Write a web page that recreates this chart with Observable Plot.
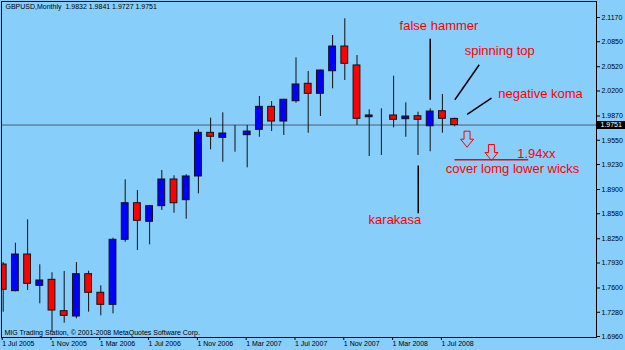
<!DOCTYPE html>
<html>
<head>
<meta charset="utf-8">
<script src="https://cdn.jsdelivr.net/npm/d3@7"></script>
<script src="https://cdn.jsdelivr.net/npm/@observablehq/plot@0.6"></script>
<style>
  html, body { margin: 0; padding: 0; background: #87CEFA; }
  #chart svg { display: block; }
</style>
</head>
<body>
<div id="chart"></div>
<script>
// ---- data (GBPUSD monthly, Jul 2005 .. Aug 2008) ----
const months = ["2005-07","2005-08","2005-09","2005-10","2005-11","2005-12",
  "2006-01","2006-02","2006-03","2006-04","2006-05","2006-06","2006-07","2006-08","2006-09","2006-10","2006-11","2006-12",
  "2007-01","2007-02","2007-03","2007-04","2007-05","2007-06","2007-07","2007-08","2007-09","2007-10","2007-11","2007-12",
  "2008-01","2008-02","2008-03","2008-04","2008-05","2008-06","2008-07","2008-08"];
const open  = [1.7910,1.7558,1.8042,1.7629,1.7708,1.7294,1.7224,1.7782,1.7537,1.7378,1.8236,1.8719,1.8474,1.8680,1.9032,1.8759,1.9072,1.9648,
  1.9582,1.9630,1.9617,1.9688,1.9991,1.9797,2.0065,2.0295,2.0163,2.0461,2.0787,2.0537,1.9854,1.9887,1.9877,1.9828,1.9867,1.9735,1.9933,1.9832];
const high  = [1.7935,1.8191,1.8500,1.7906,1.7801,1.7818,1.7936,1.7822,1.7629,1.8257,1.9028,1.8887,1.8690,1.9151,1.9081,1.9094,1.9688,1.9841,
  1.9912,1.9745,1.9745,2.0127,2.0061,2.0090,2.0638,2.0457,2.0475,2.0932,2.1153,2.0668,1.9952,1.9965,2.0395,2.0044,1.9920,1.9965,2.0154,1.9841];
const low   = [1.7281,1.7550,1.7567,1.7391,1.7017,1.7135,1.7193,1.7281,1.7233,1.7259,1.8204,1.8095,1.8170,1.8623,1.8587,1.8508,1.8843,1.9424,
  1.9260,1.9392,1.9186,1.9590,1.9665,1.9613,2.0039,1.9643,1.9863,2.0229,2.0339,1.9745,1.9335,1.9349,1.9714,1.9590,1.9349,1.9398,1.9643,1.9727];
const close = [1.7576,1.8042,1.7655,1.7699,1.7303,1.7233,1.7782,1.7537,1.7378,1.8236,1.8719,1.8487,1.8680,1.9032,1.8719,1.9072,1.9648,1.9596,
  1.9639,1.9630,1.9665,1.9991,1.9797,2.0084,2.0286,2.0163,2.0470,2.0787,2.0559,1.9833,1.9877,1.9887,1.9820,1.9863,1.9820,1.9929,1.9833,1.9751];

const xTickIndex  = [0,4,8,12,16,20,24,28,32,36];
const xTickLabels = ["1 Jul 2005","1 Nov 2005","1 Mar 2006","1 Jul 2006","1 Nov 2006","1 Mar 2007","1 Jul 2007","1 Nov 2007","1 Mar 2008","1 Jul 2008"];
const yTicks = [2.1170,2.0850,2.0520,2.0200,1.9870,1.9550,1.9230,1.8900,1.8580,1.8250,1.7930,1.7600,1.7280,1.6960];

const title = "GBPUSD,Monthly\u00a0\u00a01.9832 1.9841 1.9727 1.9751";
const copyright = "MIG Trading Station, \u00a9 2001-2008 MetaQuotes Software Corp.";

// annotations anchored in data space (month index, price)
const noteTexts  = ["false hammer","spinning top","negative koma","1.94xx","cover lomg lower wicks","karakasa"];
const noteIndex  = [35.72, 40.70, 44.04, 43.70, 41.75, 32.11];
const notePrice  = [2.1055, 2.0725, 2.0163, 1.9375, 1.9177, 1.8504];
const pointerFrom = [[35.0, 2.0889],[39.02, 2.0546],[40.02, 2.0105],[34.02, 1.8587]];
const pointerTo   = [[35.0, 2.0084],[37.02, 2.0084],[38.03, 1.9890],[34.02, 1.9217]];
const targetLine  = [[36.99, 1.9292],[43.03, 1.9292]];
const arrowIndex  = [38.02, 40.02];
const arrowPrice  = [1.9564, 1.9388];

// ---- build tables ----
const candles = months.map((m, i) => ({i, month: m, open: open[i], high: high[i], low: low[i], close: close[i]}));
const last = candles[candles.length - 1];
const notes = noteTexts.map((t, k) => ({text: t, i: noteIndex[k], price: notePrice[k]}));
const pointers = pointerFrom.map((a, k) => ({i1: a[0], p1: a[1], i2: pointerTo[k][0], p2: pointerTo[k][1]}));
const arrows = arrowIndex.map((v, k) => ({i: v, price: arrowPrice[k]}));

const arrowSymbol = {
  draw(ctx) {
    ctx.moveTo(-3, -8); ctx.lineTo(3, -8); ctx.lineTo(3, 0); ctx.lineTo(6.5, 0);
    ctx.lineTo(0, 8); ctx.lineTo(-6.5, 0); ctx.lineTo(-3, 0); ctx.closePath();
  }
};
const boxSymbol = {
  draw(ctx) {
    ctx.moveTo(-14.5, -4); ctx.lineTo(14.5, -4); ctx.lineTo(14.5, 4); ctx.lineTo(-14.5, 4); ctx.closePath();
  }
};

const font = "'Liberation Sans', Arial, sans-serif";
const half = 0.28;

const chart = Plot.plot({
  width: 625,
  height: 350,
  marginLeft: 1,
  marginRight: 29,
  marginTop: 1,
  marginBottom: 13,
  style: {background: "#87CEFA", fontFamily: font, color: "#000"},
  x: {domain: [-0.2213, 48.631], range: [0, 596], axis: null},
  y: {domain: [1.696, 2.117], range: [336, 17], axis: null},
  marks: [
    Plot.ruleY([last.close], {stroke: "#4b5d6e", strokeWidth: 1}),
    Plot.ruleX(candles, {x: "i", y1: "low", y2: "high", stroke: "#111", strokeWidth: 1, clip: true}),
    Plot.rect(candles, {
      x1: d => d.i - half, x2: d => d.i + half,
      y1: "open", y2: "close",
      fill: d => d.close > d.open ? "#0000ff" : d.close < d.open ? "#ff0000" : "none",
      stroke: "#111", strokeWidth: 1, clip: true
    }),
    Plot.frame({stroke: "#000", strokeWidth: 1}),
    Plot.axisY({anchor: "right", ticks: yTicks, tickFormat: d => d.toFixed(4), tickSize: 3, tickPadding: 2,
      fontSize: 7, label: null, stroke: "#000", fill: "#000"}),
    Plot.axisX({anchor: "bottom", ticks: xTickIndex, tickFormat: v => xTickLabels[xTickIndex.indexOf(v)],
      tickSize: 3, tickPadding: 1, textAnchor: "start", dx: -1, fontSize: 7, label: null, stroke: "#000", fill: "#000"}),
    // current price label
    Plot.dot([last], {y: "close", frameAnchor: "right", dx: 14.5, symbol: boxSymbol, fill: "#000", stroke: "none"}),
    Plot.text([last], {y: "close", text: d => d.close.toFixed(4), frameAnchor: "right", textAnchor: "start", dx: 4,
      fill: "#fff", fontSize: 7}),
    // title and copyright
    Plot.text([title], {frameAnchor: "top-left", dx: 4, dy: 3, text: d => d, fontSize: 7, fill: "#000", lineAnchor: "top"}),
    Plot.text([copyright], {frameAnchor: "bottom-left", dx: 3, dy: -3, text: d => d, fontSize: 7, fill: "#000", lineAnchor: "bottom"}),
    // annotations
    Plot.link(pointers, {x1: "i1", y1: "p1", x2: "i2", y2: "p2", stroke: "#000", strokeWidth: 1.5}),
    Plot.link([{a: targetLine[0], b: targetLine[1]}], {x1: d => d.a[0], y1: d => d.a[1], x2: d => d.b[0], y2: d => d.b[1],
      stroke: "#ff0000", strokeWidth: 1.5}),
    Plot.dot(arrows, {x: "i", y: "price", symbol: arrowSymbol, fill: "none", stroke: "#ff0000", strokeWidth: 1}),
    Plot.text(notes, {x: "i", y: "price", text: "text", fill: "#ff0000", fontSize: 13, fontFamily: font})
  ]
});
document.getElementById("chart").appendChild(chart);
</script>
</body>
</html>
